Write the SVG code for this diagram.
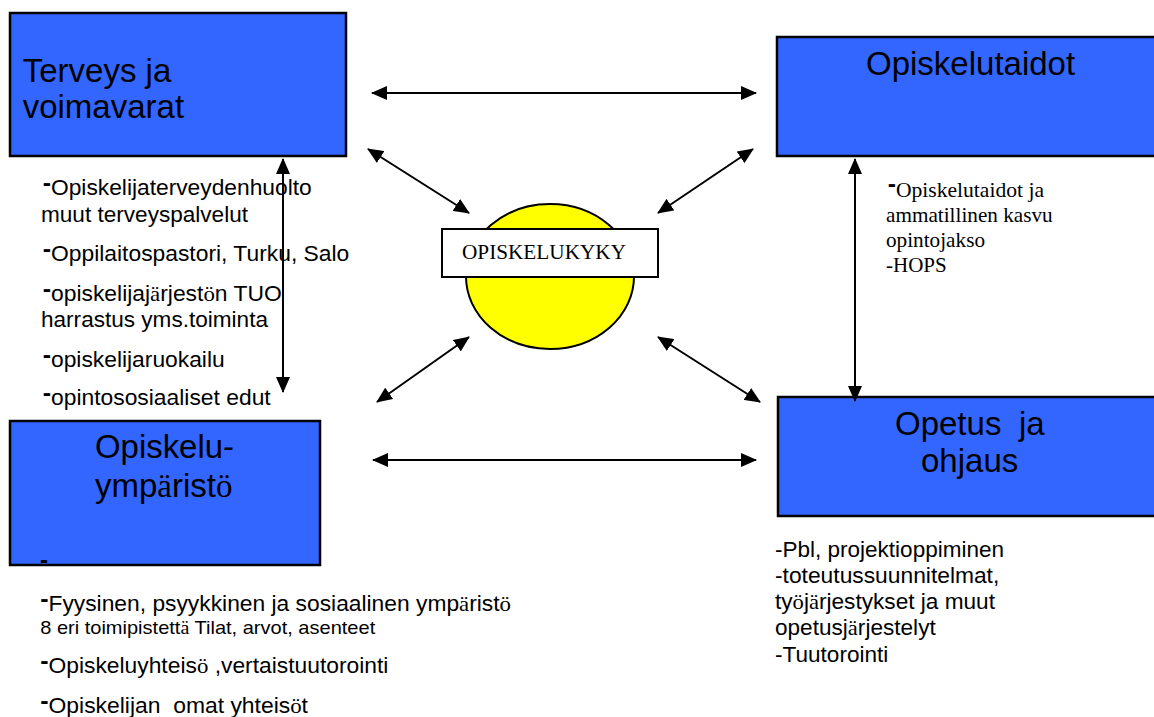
<svg xmlns="http://www.w3.org/2000/svg" width="1154" height="717" viewBox="0 0 1154 717">
<style>
.box{fill:#3366FF;stroke:#000;stroke-width:2.5}
.title{font-family:"Liberation Sans",Arial,sans-serif;font-size:33px;fill:#000}
.body{font-family:"Liberation Sans",Arial,sans-serif;font-size:22px;fill:#000}
.small{font-family:"Liberation Sans",Arial,sans-serif;font-size:19px;fill:#000}
.serif{font-family:"Liberation Serif","Times New Roman",serif;fill:#000}
.s{font-family:"Liberation Serif","Times New Roman",serif}
.d{font-weight:bold;font-size:24px}
.conn line{stroke:#000;stroke-width:2;marker-start:url(#ah);marker-end:url(#ah)}
</style>
<defs>
<marker id="ah" viewBox="0 0 16 14" refX="15" refY="7" markerWidth="16" markerHeight="14" markerUnits="userSpaceOnUse" orient="auto-start-reverse">
<path d="M0,0 L16,7 L0,14 z" fill="#000"/>
</marker>
</defs>
<rect width="1154" height="717" fill="#fff"/>

<g id="terveys">
<rect class="box" x="10" y="13" width="336" height="143"/>
<text class="title" x="22.7" y="81.7">Terveys ja</text>
<text class="title" x="22.7" y="118">voimavarat</text>
</g>

<g id="opiskelutaidot">
<rect class="box" x="777" y="37" width="400" height="119"/>
<text class="title" x="866" y="75">Opiskelutaidot</text>
</g>

<g id="opetus">
<rect class="box" x="778" y="397" width="400" height="119"/>
<text class="title" x="895" y="435">Opetus<tspan x="1019">ja</tspan></text>
<text class="title" x="921" y="471.7">ohjaus</text>
</g>

<g id="ymparisto">
<rect class="box" x="10" y="421" width="310" height="144"/>
<text class="title" x="95" y="458" textLength="139" lengthAdjust="spacingAndGlyphs">Opiskelu-</text>
<text class="title" x="95" y="497">ymp<tspan class="s">ä</tspan>rist<tspan class="s">ö</tspan></text>
<text class="body d" x="40" y="568">-</text>
</g>

<g id="opiskelukyky">
<ellipse cx="550" cy="276.5" rx="84" ry="72.5" fill="#FFFF00" stroke="#000" stroke-width="2"/>
<rect x="442" y="229" width="216" height="48" fill="#fff" stroke="#000" stroke-width="2"/>
<text class="serif" x="462" y="259" font-size="20" textLength="164" lengthAdjust="spacingAndGlyphs">OPISKELUKYKY</text>
</g>

<g id="terveys-list">
<text class="body" x="42.7" y="195" textLength="269" lengthAdjust="spacingAndGlyphs"><tspan class="d" dy="-4">-</tspan><tspan dy="4">Opiskelijaterveydenhuolto</tspan></text>
<text class="body" x="41" y="221.7" textLength="207" lengthAdjust="spacingAndGlyphs">muut terveyspalvelut</text>
<text class="body" x="42.7" y="260.7" textLength="306.6" lengthAdjust="spacingAndGlyphs"><tspan class="d" dy="-4">-</tspan><tspan dy="4">Oppilaitospastori, Turku, Salo</tspan></text>
<text class="body" x="42.7" y="300.7" textLength="239" lengthAdjust="spacingAndGlyphs"><tspan class="d" dy="-4">-</tspan><tspan dy="4">opiskelijaj</tspan><tspan class="s">ä</tspan>rjest<tspan class="s">ö</tspan>n TUO</text>
<text class="body" x="41" y="326.7" textLength="227" lengthAdjust="spacingAndGlyphs">harrastus yms.toiminta</text>
<text class="body" x="42.7" y="366.7" textLength="182" lengthAdjust="spacingAndGlyphs"><tspan class="d" dy="-4">-</tspan><tspan dy="4">opiskelijaruokailu</tspan></text>
<text class="body" x="42.7" y="405" textLength="228" lengthAdjust="spacingAndGlyphs"><tspan class="d" dy="-4">-</tspan><tspan dy="4">opintososiaaliset edut</tspan></text>
</g>

<g id="opiskelutaidot-list">
<text class="serif" font-size="21" x="887.7" y="196.7" textLength="156.3" lengthAdjust="spacingAndGlyphs"><tspan class="d" font-family="Liberation Sans, sans-serif" dy="-5">-</tspan><tspan dy="5">Opiskelutaidot ja</tspan></text>
<text class="serif" font-size="21" x="886" y="221.7" textLength="166.7" lengthAdjust="spacingAndGlyphs">ammatillinen kasvu</text>
<text class="serif" font-size="21" x="886" y="246.7" textLength="99" lengthAdjust="spacingAndGlyphs">opintojakso</text>
<text class="serif" font-size="21" x="886" y="271.7" textLength="60.7" lengthAdjust="spacingAndGlyphs">-HOPS</text>
</g>

<g id="opetus-list">
<text class="body" x="775" y="556.7" textLength="229" lengthAdjust="spacingAndGlyphs">-Pbl, projektioppiminen</text>
<text class="body" x="775" y="583.3" textLength="224.3" lengthAdjust="spacingAndGlyphs">-toteutussuunnitelmat,</text>
<text class="body" x="775" y="609.3" textLength="220" lengthAdjust="spacingAndGlyphs">ty<tspan class="s">ö</tspan>j<tspan class="s">ä</tspan>rjestykset ja muut</text>
<text class="body" x="775" y="635" textLength="160.7" lengthAdjust="spacingAndGlyphs">opetusj<tspan class="s">ä</tspan>rjestelyt</text>
<text class="body" x="775" y="661.7" textLength="113.3" lengthAdjust="spacingAndGlyphs">-Tuutorointi</text>
</g>

<g id="ymparisto-list">
<text class="body" x="40.2" y="610.7" textLength="470.8" lengthAdjust="spacingAndGlyphs"><tspan class="d" dy="-4">-</tspan><tspan dy="4">Fyysinen, psyykkinen ja sosiaalinen ymp</tspan><tspan class="s">ä</tspan>rist<tspan class="s">ö</tspan></text>
<text class="small" x="40.2" y="634.3" textLength="335" lengthAdjust="spacingAndGlyphs">8 eri toimipistett<tspan class="s">ä</tspan> Tilat, arvot, asenteet</text>
<text class="body" x="40.2" y="673" textLength="348.2" lengthAdjust="spacingAndGlyphs"><tspan class="d" dy="-4">-</tspan><tspan dy="4">Opiskeluyhteis</tspan><tspan class="s">ö</tspan> ,vertaistuutorointi</text>
<text class="body" x="40.2" y="712.7" textLength="267.8" lengthAdjust="spacingAndGlyphs" xml:space="preserve"><tspan class="d" dy="-4">-</tspan><tspan dy="4">Opiskelijan  omat yhteis</tspan><tspan class="s">ö</tspan>t</text>
</g>

<g id="connectors" class="conn">
<line x1="372" y1="93" x2="756" y2="93"/>
<line x1="368" y1="149" x2="469" y2="213"/>
<line x1="753" y1="149" x2="658" y2="213"/>
<line x1="469" y1="337" x2="377" y2="402"/>
<line x1="658" y1="337" x2="760" y2="402"/>
<line x1="373" y1="460" x2="756" y2="460"/>
<line x1="283" y1="159" x2="283" y2="392"/>
<line x1="855" y1="159" x2="855" y2="401"/>
</g>
</svg>
